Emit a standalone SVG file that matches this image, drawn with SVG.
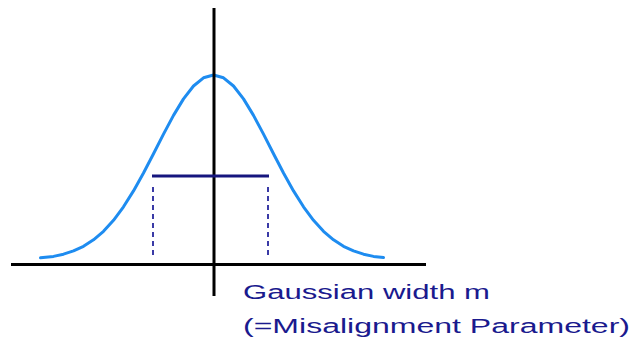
<svg xmlns="http://www.w3.org/2000/svg" width="633" height="351" viewBox="0 0 633 351">
<style>
.axis{stroke:#000;stroke-width:3;fill:none}
.curve{stroke:#1e8cf0;stroke-width:3;fill:none;stroke-linejoin:round;stroke-linecap:round}
.bar{stroke:#16167e;stroke-width:3;fill:none}
.dash{stroke:#3a3aa6;stroke-width:2;stroke-dasharray:5 4;fill:none}
.lbl{font-family:"Comic Sans MS","Liberation Sans",sans-serif;font-size:20px;fill:#1a1a8e}
</style>
<rect width="633" height="351" fill="#fff"/>
<g id="curve">
<path class="curve" d="M40.5,257.8 L53.5,256.4 L63.5,254.2 L73.5,250.9 L83.5,246.3 L93.5,239.8 L103.5,231.3 L113.5,220.3 L123.5,206.8 L133.5,190.9 L143.5,173 L153.5,153.7 L163.5,134.1 L173.5,115.4 L183.5,98.9 L193.5,86 L203.5,77.8 L213.5,75 L223.5,77.8 L233.5,86 L243.5,98.9 L253.5,115.4 L263.5,134.1 L273.5,153.7 L283.5,173 L293.5,190.9 L303.5,206.8 L313.5,220.3 L323.5,231.3 L333.5,239.8 L343.5,246.3 L353.5,250.9 L363.5,254.2 L373.5,256.4 L383.5,257.6"/>
</g>
<g id="axes">
<line class="axis" x1="11" y1="264.5" x2="426" y2="264.5"/>
<line class="axis" x1="214" y1="8" x2="214" y2="296"/>
</g>
<g id="width-marker">
<line class="bar" x1="152" y1="176" x2="269" y2="176"/>
<line class="dash" x1="153" y1="187" x2="153" y2="259"/>
<line class="dash" x1="268" y1="187" x2="268" y2="259"/>
</g>
<g id="label">
<text class="lbl" x="243" y="299" textLength="247" lengthAdjust="spacingAndGlyphs">Gaussian width m</text>
<text class="lbl" x="243" y="333" textLength="387" lengthAdjust="spacingAndGlyphs">(=Misalignment Parameter)</text>
</g>
</svg>
